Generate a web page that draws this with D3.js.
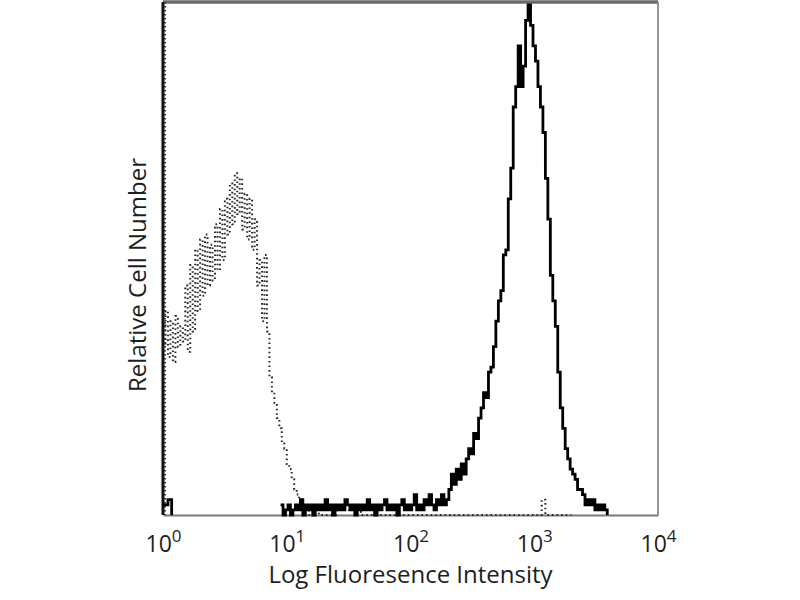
<!DOCTYPE html>
<html>
<head>
<meta charset="utf-8">
<script src="https://cdn.jsdelivr.net/npm/d3@7"></script>
<style>
  body { margin: 0; background: #fff; }
  text { font-family: "Open Sans", sans-serif; fill: #1e1e1e; }
</style>
</head>
<body>
<svg id="histo" width="800" height="600"></svg>
<script>
// isotype control (dotted), log10 bin start -> relative count
var ctrlLog = [0,0.02,0.04,0.06,0.08,0.1,0.12,0.14,0.16,0.18,0.2,0.22,0.24,0.26,0.28,0.3,0.32,0.34,0.36,0.38,
  0.4,0.42,0.44,0.46,0.48,0.5,0.52,0.54,0.56,0.58,0.6,0.62,0.64,0.66,0.68,0.7,0.72,0.74,0.76,0.78,
  0.8,0.82,0.84,0.86,0.88,0.9,0.92,0.94,0.96,0.98,1,1.02,1.04,1.06,1.08,1.1,1.12,1.14,1.16,1.18,
  1.22,1.26,1.4,1.6,2,2.4,2.8,3.06,3.09,3.12,3.3];
var ctrlCount = [33,40,31,38,30,39,33,37,34,45,32,49,36,52,40,54,43,55,45,53,
  46,57,48,60,50,62,55,65,57,67,59,66,56,63,54,62,52,58,45,50,
  38,51,36,27,24,22,19,17,14,13,10,9,7,5,4,3,2,1,1,0,
  1,0,1,0,0,0,0,3,0,0,0];

// stained sample (solid), null = gap
var stainLog = [0,0.04,0.07,0.5,
  0.95,0.97,0.99,1.01,1.03,1.05,1.07,1.09,1.11,1.13,1.15,1.17,1.19,1.21,1.23,1.25,1.27,1.29,1.31,1.33,
  1.35,1.37,1.39,1.41,1.43,1.45,1.47,1.49,1.51,1.53,1.55,1.57,1.59,1.61,1.63,1.65,1.67,1.69,1.71,1.73,
  1.75,1.77,1.79,1.81,1.83,1.85,1.87,1.89,1.91,1.93,1.95,1.97,1.99,2.01,2.03,2.05,2.07,2.09,2.11,2.13,
  2.15,2.17,2.19,2.21,2.23,2.25,2.27,2.29,
  2.31,2.33,2.35,2.37,2.39,2.41,2.43,2.45,2.47,2.49,2.51,2.53,2.55,2.57,2.59,2.61,2.63,2.65,2.67,2.69,
  2.71,2.73,2.75,2.77,2.79,2.81,2.83,2.85,2.87,2.89,2.91,2.93,2.95,2.97,2.99,3.01,3.03,3.05,3.07,3.09,
  3.11,3.13,3.15,3.17,3.19,3.21,3.23,3.25,3.27,3.29,3.31,3.33,3.35,3.37,3.39,3.41,3.43,3.45,3.47,3.49,
  3.51,3.53,3.55,3.57,3.59];
var stainCount = [2,3,0,null,
  2,0,1,2,0,1,2,1,3,0,2,1,2,0,2,1,2,1,3,1,
  2,0,2,1,2,1,3,2,1,2,0,2,1,2,1,3,1,2,0,2,
  1,2,3,1,2,1,2,0,2,3,1,2,1,2,4,1,2,1,3,2,
  4,2,1,3,2,4,2,3,
  5,8,6,9,7,10,8,11,13,12,16,15,19,21,24,23,28,29,33,38,
  42,44,51,52,62,68,80,84,92,84,88,97,100,96,92,89,84,80,75,66,
  58,47,42,37,28,21,17,13,11,9,8,7,5,5,4,2,3,2,3,1,
  2,1,2,1,0];

var decades = [1, 10, 100, 1000, 10000];
var exponents = ["0", "1", "2", "3", "4"];

var svg = d3.select("#histo"),
  margin = { top: 2, right: 142, bottom: 85, left: 163 },
  width = +svg.attr("width") - margin.left - margin.right,
  height = +svg.attr("height") - margin.top - margin.bottom;

var x = d3.scaleLog().domain([1, 10000]).range([0, width]),
  y = d3.scaleLinear().domain([0, 100]).range([height, 3]);

var g = svg.append("g")
  .attr("transform", "translate(" + margin.left + "," + margin.top + ")");

var ctrl = ctrlLog.map(function (d, i) { return { v: Math.pow(10, d), c: ctrlCount[i] }; });
var stain = stainLog.map(function (d, i) { return { v: Math.pow(10, d), c: stainCount[i] }; });

var line = d3.line()
  .defined(function (d) { return d.c != null; })
  .x(function (d) { return x(d.v); })
  .y(function (d) { return y(d.c); })
  .curve(d3.curveStepAfter);

// frame
g.append("line").attr("x1", 0).attr("x2", width).attr("y1", 0).attr("y2", 0)
  .attr("stroke", "#6a6a6a").attr("stroke-width", 3.5);
g.append("line").attr("x1", width).attr("x2", width).attr("y1", 0).attr("y2", height)
  .attr("stroke", "#8a8a8a").attr("stroke-width", 1.8);

g.append("g")
  .attr("class", "axis axis--x")
  .attr("transform", "translate(0," + height + ")")
  .call(d3.axisBottom(x).tickValues(decades).tickSize(0))
  .call(function (a) {
    a.select(".domain").attr("stroke", "#7a7a7a").attr("stroke-width", 2.2);
    a.selectAll(".tick text").each(function (d, i) {
      var t = d3.select(this).text("").attr("dy", null).attr("y", 37)
        .attr("font-size", 23).attr("fill", "#1e1e1e");
      t.append("tspan").text("10");
      t.append("tspan").attr("dy", -10).attr("font-size", 17).text(exponents[i]);
    });
  });

// left axis: dark with dotted texture
g.append("line").attr("x1", 0).attr("x2", 0).attr("y1", 0).attr("y2", height)
  .attr("stroke", "#111").attr("stroke-width", 3);
g.append("line").attr("x1", 2).attr("x2", 2).attr("y1", 0).attr("y2", height)
  .attr("stroke", "#333").attr("stroke-width", 2).attr("stroke-dasharray", "1.5,2.5");

g.append("path")
  .datum(ctrl)
  .attr("fill", "none")
  .attr("stroke", "#2a2a2a")
  .attr("stroke-width", 2)
  .attr("stroke-dasharray", "1.6,3")
  .attr("d", line);

g.append("path")
  .datum(stain)
  .attr("fill", "none")
  .attr("stroke", "#000")
  .attr("stroke-width", 2.8)
  .attr("d", line);

svg.append("text")
  .attr("x", margin.left + width / 2)
  .attr("y", 583)
  .attr("text-anchor", "middle")
  .attr("font-size", 24)
  .text("Log Fluoresence Intensity");

svg.append("text")
  .attr("transform", "translate(146," + 275 + ") rotate(-90)")
  .attr("text-anchor", "middle")
  .attr("font-size", 24)
  .text("Relative Cell Number");
</script>
</body>
</html>
